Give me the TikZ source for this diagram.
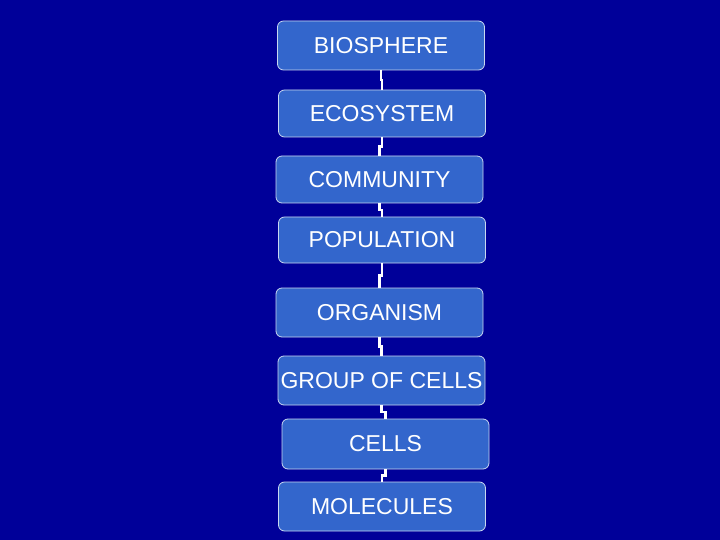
\documentclass[tikz,border=0pt]{standalone}
\usepackage{fontspec}
\setmainfont{Liberation Sans}
\usetikzlibrary{calc}
\definecolor{slide}{RGB}{0,0,153}
\definecolor{boxfill}{RGB}{51,102,204}
\definecolor{boxline}{RGB}{200,215,240}
\begin{document}
\begin{tikzpicture}[x=1pt,y=-1pt,line join=miter,
	level/.style={draw=boxline,line width=0.8pt,fill=boxfill,rounded corners=6pt,
		minimum width=207pt,inner sep=0pt,text=white,font=\fontsize{23}{26}\selectfont},
	link/.style={draw=white,line width=2.6pt}]
		\fill[slide] (0,0) rectangle (720,540);
		\useasboundingbox (0,0) rectangle (720,540);
		\node[level,minimum height=49pt] (bio) at (381,45.5) {BIOSPHERE};
		\node[level,minimum height=47pt] (eco) at (382,113.5) {ECOSYSTEM};
		\node[level,minimum height=47pt] (com) at (379.5,179.5) {COMMUNITY};
		\node[level,minimum height=46pt] (pop) at (382,240) {POPULATION};
		\node[level,minimum height=49pt] (org) at (379.5,312.5) {ORGANISM};
		\node[level,minimum height=49pt] (grp) at (381.5,380.5) {GROUP OF CELLS};
		\node[level,minimum height=50pt] (cel) at (385.5,444) {CELLS};
		\node[level,minimum height=49pt] (mol) at (382,506.5) {MOLECULES};
		% connectors between the levels
		\foreach \a/\b in {bio/eco,eco/com,com/pop,pop/org,org/grp,grp/cel,cel/mol}
		\draw[link] (\a.south) |- ($(\a.south)!0.5!(\b.north)$) -| (\b.north);
\end{tikzpicture}
\end{document}
